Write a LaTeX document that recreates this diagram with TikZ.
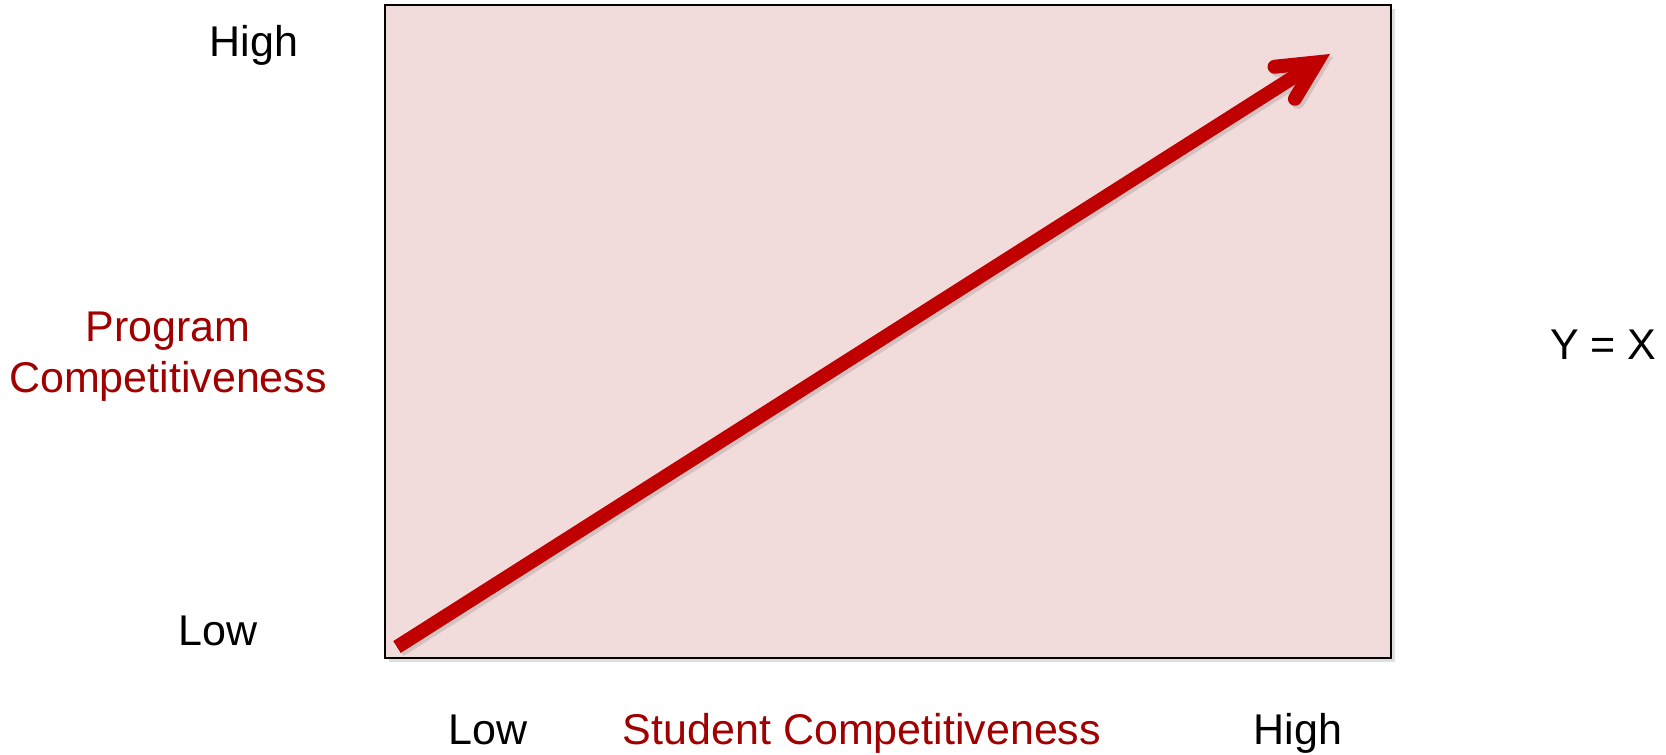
\documentclass[tikz,border=0pt]{standalone}
\usepackage{fontspec}
\setmainfont{Liberation Sans}
\usepackage{tikz}
\usetikzlibrary{arrows.meta,shadows}

\definecolor{plotpink}{RGB}{242,220,219}
\definecolor{arrowred}{RGB}{192,0,0}
\definecolor{labelred}{RGB}{160,0,0}

\tikzset{
  axislabel/.style={anchor=base,font=\fontsize{21.5}{25.5}\selectfont,text=black,inner sep=0pt},
  axistitle/.style={axislabel,text=labelred,align=center},
  trendarrow/.style={line width=7pt,
    -{Straight Barb[length=19pt,width=19pt,line cap=round,line join=miter]}},
}

\begin{document}
\begin{tikzpicture}[x=0.5pt,y=0.5pt,yscale=-1,xscale=1]
		\useasboundingbox (0,0) rectangle (1666,755);
		
		%Shape: Rectangle [id:plot]
		\node (plot) [draw=black,line width=1pt,fill=plotpink,minimum width=503pt,minimum height=326.5pt,inner sep=0pt,
		  drop shadow={opacity=0.25,shadow xshift=2pt,shadow yshift=-2pt}] at (888,331.5) {};
		
		%Straight Lines [id:trend]
		\coordinate (start) at (397,647);
		\coordinate (tip) at (1330,54);
		\draw [trendarrow,black,opacity=0.12,transform canvas={shift={(1.5pt,-1.5pt)}}] (start) -- (tip) ;
		\draw [trendarrow,arrowred] (start) -- (tip) ;
		
		% Text Node
		\node (yhigh) [axislabel] at (254,56) {High};
		% Text Node
		\node (ylow) [axislabel] at (218,645) {Low};
		% Text Node
		\node (ytitle) [axistitle,anchor=north] at (168,312) {Program\\Competitiveness};
		% Text Node
		\node (eq) [axislabel,anchor=base east] at (1657,359) {Y = X};
		% Text Node
		\node (xlow) [axislabel] at (488,744) {Low};
		% Text Node
		\node (xtitle) [axistitle] at (862,744) {Student Competitiveness};
		% Text Node
		\node (xhigh) [axislabel] at (1298,744) {High};
		
\end{tikzpicture}
\end{document}
